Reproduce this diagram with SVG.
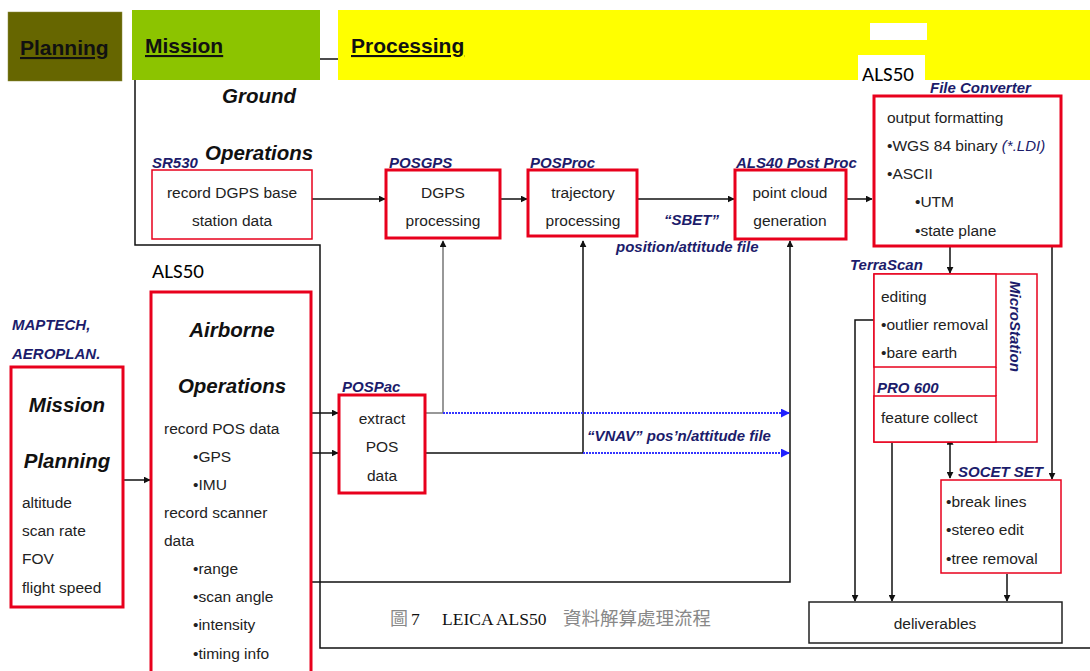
<svg xmlns="http://www.w3.org/2000/svg" width="1090" height="671" viewBox="0 0 1090 671">
<defs>
<marker id="ah" viewBox="0 0 10 10" refX="9" refY="5" markerWidth="7" markerHeight="7" markerUnits="userSpaceOnUse" orient="auto"><path d="M0,0 L10,5 L0,10 z" fill="#111"/></marker>
<marker id="ahs" viewBox="0 0 10 10" refX="1" refY="5" markerWidth="7" markerHeight="7" markerUnits="userSpaceOnUse" orient="auto-start-reverse"><path d="M0,0 L10,5 L0,10 z" fill="#111"/></marker>
<marker id="ahb" viewBox="0 0 10 10" refX="9" refY="5" markerWidth="9" markerHeight="9" markerUnits="userSpaceOnUse" orient="auto"><path d="M0,0 L10,5 L0,10 z" fill="#2020ff"/></marker>
<style>
text{font-family:"Liberation Sans",Arial,sans-serif;}
.t{font-size:15.5px;fill:#222;}
.c{text-anchor:middle;}
.h{font-size:21px;font-weight:bold;text-decoration:underline;fill:#111;}
.lb{font-size:15px;font-style:italic;font-weight:bold;fill:#1c1c6b;}
.big{font-size:20.5px;font-style:italic;font-weight:bold;fill:#111;}
.rk{fill:#fff;stroke:#e8001c;stroke-width:3;}
.rn{fill:#fff;stroke:#e8001c;stroke-width:1.5;}
.ln{fill:none;stroke:#111;stroke-width:1.5;}
.lg{fill:none;stroke:#777;stroke-width:1.5;}
.dt{fill:none;stroke:#3535ff;stroke-width:1.8;stroke-dasharray:2 1;}
.cal{font-family:Carlito,"Liberation Sans",sans-serif;font-size:21px;fill:#000;}
</style>
</defs>

<g id="header">
<rect x="8" y="12" width="114" height="69" fill="#666600" stroke="#8a8a40" stroke-width="0.5"/>
<text class="h" x="20" y="55">Planning</text>
<rect x="132" y="10" width="188" height="70" fill="#8cc400"/>
<text class="h" x="145" y="53">Mission</text>
<rect x="338" y="10" width="752" height="70" fill="#ffff00"/>
<text class="h" x="351" y="53">Processing</text>
<rect x="870" y="23" width="57" height="17" fill="#fff"/>
</g>

<g id="connectors">
<path class="ln" d="M320,59 H338"/>
<path class="ln" d="M135,80 V245 H320 V648 H1090"/>
<path class="ln" d="M312,199 H385" marker-end="url(#ah)"/>
<path class="ln" d="M500,199 H527" marker-end="url(#ah)"/>
<path class="ln" d="M637,199 H734" marker-end="url(#ah)"/>
<path class="ln" d="M846,199 H872" marker-end="url(#ah)"/>
<path class="ln" d="M123,480 H150" marker-end="url(#ah)"/>
<path class="ln" d="M311,413 H338" marker-end="url(#ah)"/>
<path class="ln" d="M311,453 H338" marker-end="url(#ah)"/>
<path class="lg" d="M425,413 H443 V241" marker-end="url(#ah)"/>
<path class="ln" d="M425,453 H583 V241" marker-end="url(#ah)"/>
<path class="ln" d="M311,582 H790 V241" marker-end="url(#ah)"/>
<path class="dt" d="M443,413 H789" marker-end="url(#ahb)"/>
<path class="dt" d="M583,453 H789" marker-end="url(#ahb)"/>
<path class="ln" d="M950,247 V273" marker-end="url(#ah)"/>
<path class="ln" d="M1052,247 V479" marker-end="url(#ah)"/>
<path class="ln" d="M950,444 V478" marker-start="url(#ahs)" marker-end="url(#ah)"/>
<path class="ln" d="M875,320 H855 V601" marker-end="url(#ah)"/>
<path class="ln" d="M892,443 V601" marker-end="url(#ah)"/>
<path class="ln" d="M1007,574 V601" marker-end="url(#ah)"/>
</g>

<g id="ground-ops">
<text class="big" x="222" y="103">Ground</text>
<text class="big" x="205" y="160">Operations</text>
</g>

<g id="sr530">
<text class="lb" x="152" y="168">SR530</text>
<rect class="rn" x="152" y="170" width="160" height="69"/>
<text class="t c" x="232" y="198">record DGPS base</text>
<text class="t c" x="232" y="226">station data</text>
</g>

<g id="posgps">
<text class="lb" x="389" y="168">POSGPS</text>
<rect class="rk" x="386" y="170" width="114" height="68"/>
<text class="t c" x="443" y="198">DGPS</text>
<text class="t c" x="443" y="226">processing</text>
</g>

<g id="posproc">
<text class="lb" x="530" y="168">POSProc</text>
<rect class="rk" x="528" y="170" width="109" height="66"/>
<text class="t c" x="583" y="198">trajectory</text>
<text class="t c" x="583" y="226">processing</text>
</g>

<g id="sbet-label">
<text class="lb" x="664" y="225">“SBET”</text>
<text class="lb" x="616" y="252">position/attitude file</text>
</g>

<g id="postproc">
<text class="lb" x="736" y="168">ALS40 Post Proc</text>
<rect class="rk" x="735" y="170" width="111" height="69"/>
<text class="t c" x="790" y="198">point cloud</text>
<text class="t c" x="790" y="226">generation</text>
</g>

<g id="fileconv">
<rect x="858" y="55" width="67" height="39" fill="#fff"/>
<text class="cal" x="862" y="81">ALS50</text>
<text class="lb" x="930" y="93">File Converter</text>
<rect class="rk" x="874" y="96" width="187" height="150"/>
<text class="t" x="887" y="123">output formatting</text>
<text class="t" x="887" y="151">•WGS 84 binary <tspan class="lb" style="font-weight:normal">(*.LDI)</tspan></text>
<text class="t" x="887" y="179">•ASCII</text>
<text class="t" x="915" y="207">•UTM</text>
<text class="t" x="915" y="236">•state plane</text>
</g>

<g id="microstation">
<text class="lb" x="850" y="270">TerraScan</text>
<rect class="rn" x="874" y="274" width="163" height="168"/>
<rect class="rn" x="874" y="274" width="122" height="93"/>
<rect class="rn" x="874" y="396" width="122" height="46"/>
<line x1="996" y1="367" x2="996" y2="396" stroke="#e8001c" stroke-width="1.5"/>
<text class="lb" transform="translate(1010,281) rotate(90)">MicroStation</text>
<text class="t" x="881" y="302">editing</text>
<text class="t" x="881" y="330">•outlier removal</text>
<text class="t" x="881" y="358">•bare earth</text>
<text class="lb" x="877" y="393">PRO 600</text>
<text class="t" x="881" y="423">feature collect</text>
</g>

<g id="socet">
<text class="lb" x="958" y="477">SOCET SET</text>
<rect class="rn" x="941" y="480" width="120" height="93"/>
<text class="t" x="946" y="507">•break lines</text>
<text class="t" x="946" y="535">•stereo edit</text>
<text class="t" x="946" y="564">•tree removal</text>
</g>

<g id="deliverables">
<rect x="809" y="602" width="253" height="41" fill="#fff" stroke="#222" stroke-width="1.5"/>
<text class="t c" x="935" y="629">deliverables</text>
</g>

<g id="mission-planning">
<text class="lb" x="12" y="330">MAPTECH,</text>
<text class="lb" x="12" y="359">AEROPLAN.</text>
<rect class="rk" x="11" y="367" width="112" height="240"/>
<text class="big c" x="67" y="412">Mission</text>
<text class="big c" x="67" y="468">Planning</text>
<text class="t" x="22" y="508">altitude</text>
<text class="t" x="22" y="536">scan rate</text>
<text class="t" x="22" y="564">FOV</text>
<text class="t" x="22" y="593">flight speed</text>
</g>

<g id="airborne">
<text class="cal" x="152" y="278">ALS50</text>
<rect class="rk" x="151" y="292" width="160" height="390"/>
<text class="big c" x="232" y="337">Airborne</text>
<text class="big c" x="232" y="393">Operations</text>
<text class="t" x="164" y="434">record POS data</text>
<text class="t" x="193" y="462">•GPS</text>
<text class="t" x="193" y="490">•IMU</text>
<text class="t" x="164" y="518">record scanner</text>
<text class="t" x="164" y="546">data</text>
<text class="t" x="193" y="574">•range</text>
<text class="t" x="193" y="602">•scan angle</text>
<text class="t" x="193" y="630">•intensity</text>
<text class="t" x="193" y="659">•timing info</text>
</g>

<g id="pospac">
<text class="lb" x="342" y="392">POSPac</text>
<rect class="rk" x="339" y="395" width="86" height="98"/>
<text class="t c" x="382" y="424">extract</text>
<text class="t c" x="382" y="452">POS</text>
<text class="t c" x="382" y="481">data</text>
</g>

<g id="vnav-label">
<text class="lb" x="587" y="441">“VNAV” pos’n/attitude file</text>
</g>

<g id="caption">
<text y="625" style="font-family:'Liberation Serif','Noto Sans CJK TC',serif;font-size:17.5px;fill:#111;"><tspan x="390" fill="#888" style="font-family:'Noto Sans CJK TC',sans-serif;font-size:18px">圖</tspan><tspan x="411">7</tspan><tspan x="442">LEICA ALS50</tspan><tspan x="563" fill="#888" style="font-family:'Noto Sans CJK TC',sans-serif;font-size:18.5px">資料解算處理流程</tspan></text>
</g>
</svg>
